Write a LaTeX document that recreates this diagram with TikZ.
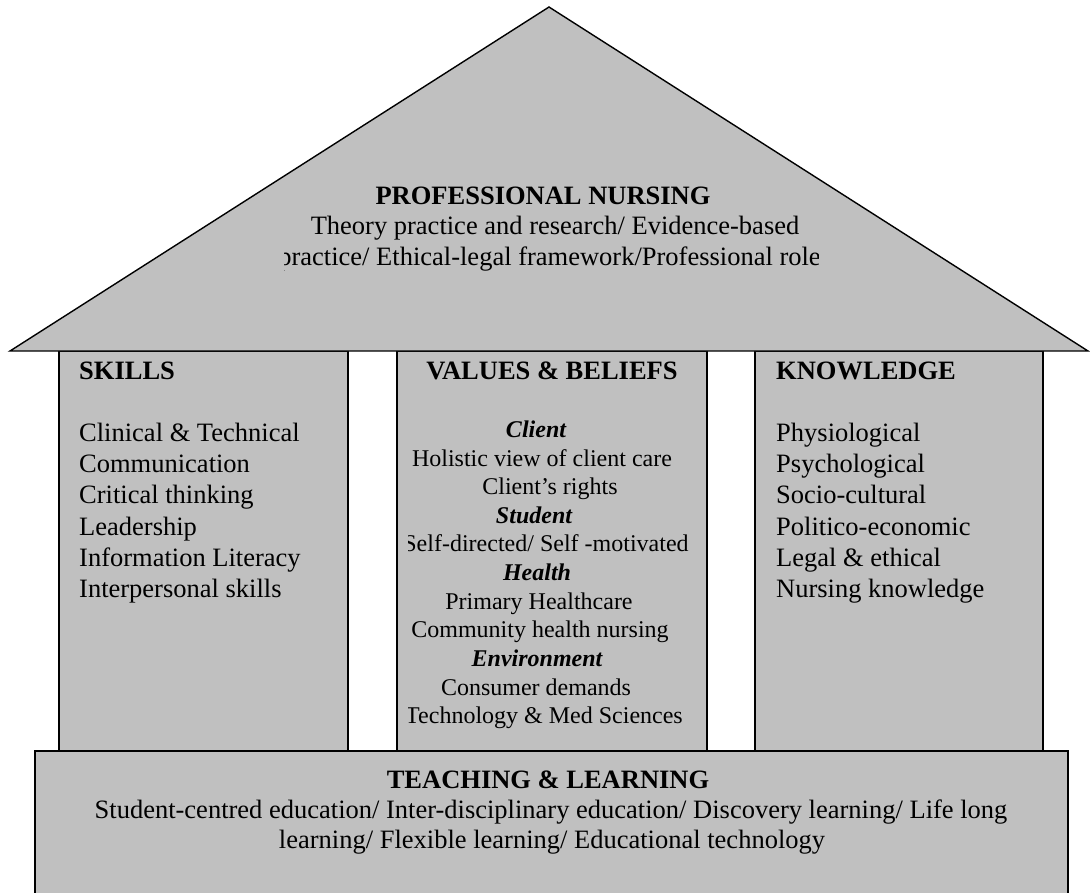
\documentclass[tikz,border=0pt]{standalone}
\usepackage{fontspec}
\setmainfont{Liberation Serif}
\definecolor{housegray}{HTML}{C0C0C0}
\tikzset{
  part/.style={fill=housegray, draw=black, line width=1.4pt, line join=miter},
  big/.style={inner sep=0pt, anchor=base, font=\fontsize{26.5}{31}\selectfont},
  bighead/.style={big, font=\fontsize{26.5}{31}\selectfont\bfseries},
  bigleft/.style={big, anchor=base west},
  headleft/.style={bighead, anchor=base west},
  small/.style={inner sep=0pt, anchor=base, font=\fontsize{24}{28}\selectfont},
  smallhead/.style={small, font=\fontsize{24}{28}\selectfont\bfseries\itshape},
}
\begin{document}
\begin{tikzpicture}[x=1pt,y=-1pt]
\useasboundingbox (0,0) rectangle (1090,892);
\clip (0,0) rectangle (1090,892);
% columns
\path[part] (59,351) rectangle (348,752);
\path[part] (397,351) rectangle (707,752);
\path[part] (755,351) rectangle (1043,752);
% roof
\path[part] (10,351) -- (549,7) -- (1088,351) -- cycle;
% base
\path[part] (35,751) rectangle (1068,905);

% roof text
\node[bighead] (pn) at (543,204) {PROFESSIONAL NURSING};
\node[big] (pn1) at (555,234) {Theory practice and research/ Evidence-based};
\begin{scope}
\clip (284.5,240) rectangle (818,280);
\node[big] (pn2) at (549.5,265) {practice/ Ethical-legal framework/Professional role};
\end{scope}

% skills
\node[headleft] (sk) at (79,379) {SKILLS};
\node[bigleft] (sk1) at (79,441) {Clinical \& Technical};
\node[bigleft] (sk2) at (79,472) {Communication};
\node[bigleft] (sk3) at (79,503.5) {Critical thinking};
\node[bigleft] (sk4) at (79,535) {Leadership};
\node[bigleft] (sk5) at (79,566) {Information Literacy};
\node[bigleft] (sk6) at (79,597.5) {Interpersonal skills};

% knowledge
\node[headleft] (kn) at (776,379) {KNOWLEDGE};
\node[bigleft] (kn1) at (776,441) {Physiological};
\node[bigleft] (kn2) at (776,472) {Psychological};
\node[bigleft] (kn3) at (776,503.5) {Socio-cultural};
\node[bigleft] (kn4) at (776,535) {Politico-economic};
\node[bigleft] (kn5) at (776,566) {Legal \& ethical};
\node[bigleft] (kn6) at (776,597.5) {Nursing knowledge};

% values
\node[bighead] (vb) at (552,379) {VALUES \& BELIEFS};
\begin{scope}
\clip (408,400) rectangle (690,740);
\node[smallhead] (v1) at (536,437) {Client};
\node[small] (v2) at (542,466) {Holistic view of client care};
\node[small] (v3) at (550,494) {Client’s rights};
\node[smallhead] (v4) at (534,523) {Student};
\node[small] (v5) at (546,551) {Self-directed/ Self -motivated};
\node[smallhead] (v6) at (537,580) {Health};
\node[small] (v7) at (539,609) {Primary Healthcare};
\node[small] (v8) at (540,637) {Community health nursing};
\node[smallhead] (v9) at (537,666) {Environment};
\node[small] (v10) at (536,695) {Consumer demands};
\node[small] (v11) at (544,723) {Technology \& Med Sciences};
\end{scope}

% base text
\node[bighead] (tl) at (548,788) {TEACHING \& LEARNING};
\node[big] (tl1) at (551,818) {Student-centred education/ Inter-disciplinary education/ Discovery learning/ Life long};
\node[big] (tl2) at (552,848) {learning/ Flexible learning/ Educational technology};
\end{tikzpicture}
\end{document}
